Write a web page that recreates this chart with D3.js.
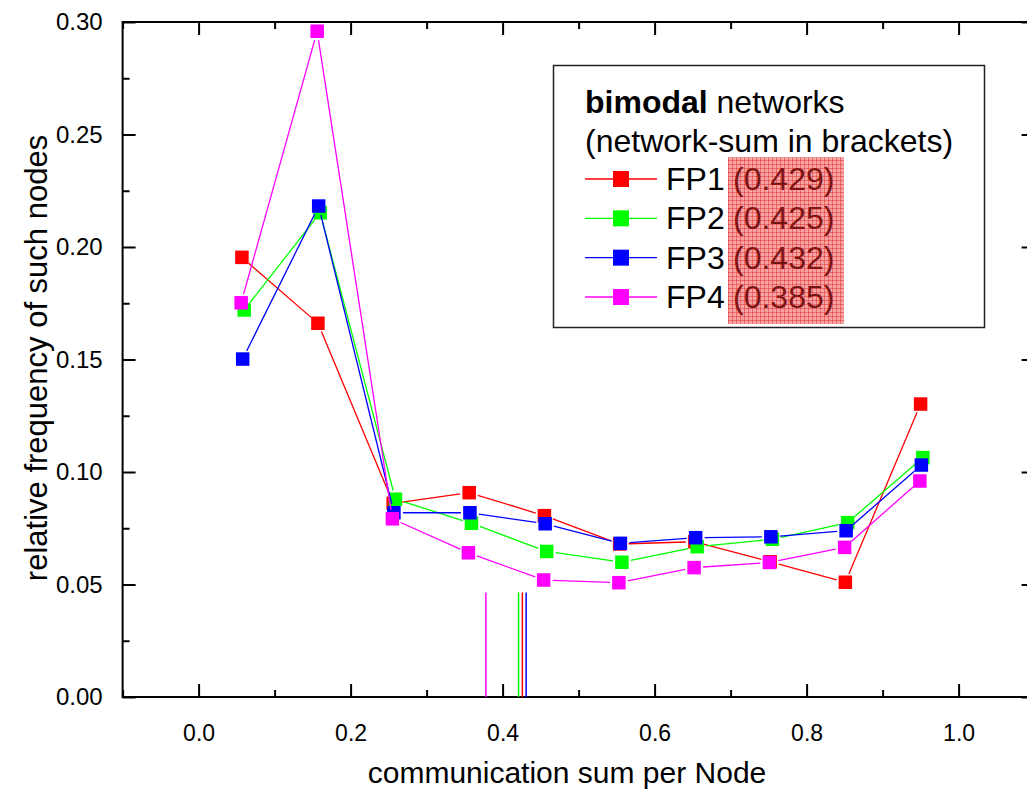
<!DOCTYPE html>
<html>
<head>
<meta charset="utf-8">
<script src="https://cdn.jsdelivr.net/npm/d3@7"></script>
<style>
  html, body { margin: 0; padding: 0; background: #fff; }
  svg { display: block; font-family: "Liberation Sans", Arial, Helvetica, sans-serif; }
</style>
</head>
<body>
<svg id="chart" width="1027" height="791"></svg>
<script>
// ---- data ----
const binCenters = [0.057, 0.157, 0.256, 0.356, 0.455, 0.554, 0.653, 0.752, 0.851, 0.950];
const seriesNames = ["FP1", "FP2", "FP3", "FP4"];
const seriesColors = ["#ff0000", "#00ff00", "#0000ff", "#ff00ff"];
const seriesXShift = [0.0, 0.003, 0.001, -0.001];
const fp1 = [0.1954, 0.1661, 0.0861, 0.0908, 0.0806, 0.0680, 0.0690, 0.0601, 0.0510, 0.1302];
const fp2 = [0.1720, 0.2152, 0.0879, 0.0772, 0.0647, 0.0599, 0.0668, 0.0701, 0.0775, 0.1064];
const fp3 = [0.1502, 0.2182, 0.0819, 0.0819, 0.0770, 0.0683, 0.0708, 0.0712, 0.0739, 0.1031];
const fp4 = [0.1752, 0.2959, 0.0792, 0.0641, 0.0520, 0.0508, 0.0575, 0.0598, 0.0665, 0.0960];
const networkSumLabels = ["(0.429)", "(0.425)", "(0.432)", "(0.385)"];
const networkSumLinePos = [0.426, 0.421, 0.431, 0.378];
const networkSumLineTop = 0.0465;
const xTicks = [0.0, 0.2, 0.4, 0.6, 0.8, 1.0];
const xMinorTicks = [-0.1, 0.1, 0.3, 0.5, 0.7, 0.9, 1.1];
const yTicks = [0.00, 0.05, 0.10, 0.15, 0.20, 0.25, 0.30];
const yMinorTicks = [0.025, 0.075, 0.125, 0.175, 0.225, 0.275];
const xDomain = [-0.1, 1.1];
const yDomain = [0, 0.3];
const xTitle = "communication sum per Node";
const yTitle = "relative frequency of such nodes";
const legendTitleBold = "bimodal";
const legendTitleRest = " networks";
const legendSubtitle = "(network-sum in brackets)";

const seriesValues = [fp1, fp2, fp3, fp4];

// ---- layout ----
const FONT = "'Liberation Sans', Arial, Helvetica, sans-serif";
const svg = d3.select("#chart");
const pLeft = 122.6, pRight = 1034.6, pTop = 22, pBottom = 697;
const x = d3.scaleLinear().domain(xDomain).range([pLeft, pRight]);
const y = d3.scaleLinear().domain(yDomain).range([pBottom, pTop]);

const majorLen = 13, minorLen = 7;
const fmtX = d3.format(".1f"), fmtY = d3.format(".2f");

function styleAxis(g) {
  g.select(".domain").remove();
  g.selectAll(".tick line").attr("stroke", "#000").attr("stroke-width", 2);
}

// bottom
svg.append("g").attr("transform", `translate(0,${pBottom})`)
  .call(d3.axisBottom(x).tickValues(xTicks).tickSize(-majorLen).tickPadding(44).tickFormat(fmtX))
  .call(styleAxis)
  .call(g => g.selectAll("text").attr("font-size", 23).attr("fill", "#000")
      .attr("font-family", FONT).attr("dy", "0"));
svg.append("g").attr("transform", `translate(0,${pBottom})`)
  .call(d3.axisBottom(x).tickValues(xMinorTicks).tickSize(-minorLen).tickFormat(""))
  .call(styleAxis);
// top
svg.append("g").attr("transform", `translate(0,${pTop})`)
  .call(d3.axisTop(x).tickValues(xTicks).tickSize(-majorLen).tickFormat(""))
  .call(styleAxis);
svg.append("g").attr("transform", `translate(0,${pTop})`)
  .call(d3.axisTop(x).tickValues(xMinorTicks).tickSize(-minorLen).tickFormat(""))
  .call(styleAxis);
// left
svg.append("g").attr("transform", `translate(${pLeft},0)`)
  .call(d3.axisLeft(y).tickValues(yTicks).tickSize(-majorLen).tickPadding(20).tickFormat(fmtY))
  .call(styleAxis)
  .call(g => g.selectAll("text").attr("font-size", 24).attr("fill", "#000")
      .attr("font-family", FONT));
svg.append("g").attr("transform", `translate(${pLeft},0)`)
  .call(d3.axisLeft(y).tickValues(yMinorTicks).tickSize(-minorLen).tickFormat(""))
  .call(styleAxis);
// right
svg.append("g").attr("transform", `translate(${pRight},0)`)
  .call(d3.axisRight(y).tickValues(yTicks).tickSize(-majorLen).tickFormat(""))
  .call(styleAxis);
svg.append("g").attr("transform", `translate(${pRight},0)`)
  .call(d3.axisRight(y).tickValues(yMinorTicks).tickSize(-minorLen).tickFormat(""))
  .call(styleAxis);

// frame
svg.append("rect").attr("x", pLeft).attr("y", pTop)
  .attr("width", pRight - pLeft).attr("height", pBottom - pTop)
  .attr("fill", "none").attr("stroke", "#000").attr("stroke-width", 2);

// axis titles
svg.append("text").attr("x", 567).attr("y", 783)
  .attr("text-anchor", "middle").attr("font-size", 30).attr("fill", "#000")
  .attr("font-family", FONT)
  .text(xTitle);
svg.append("text").attr("transform", `translate(47,358) rotate(-90)`)
  .attr("text-anchor", "middle").attr("font-size", 31).attr("fill", "#000")
  .attr("font-family", FONT)
  .text(yTitle);

// network-sum drop lines
networkSumLinePos.forEach((v, i) => {
  svg.append("line")
    .attr("x1", x(v)).attr("x2", x(v))
    .attr("y1", y(0)).attr("y2", y(networkSumLineTop))
    .attr("stroke", seriesColors[i]).attr("stroke-width", 1.5);
});

// series
const ms = 13.5, gap = 9;
seriesValues.forEach((vals, si) => {
  const pts = vals.map((v, k) => [x(binCenters[k] + seriesXShift[si]), y(v)]);
  const g = svg.append("g");
  for (let k = 0; k < pts.length - 1; k++) {
    const [x1, y1] = pts[k], [x2, y2] = pts[k + 1];
    const dx = x2 - x1, dy = y2 - y1, L = Math.hypot(dx, dy);
    if (L <= 2 * gap) continue;
    const ux = dx / L, uy = dy / L;
    g.append("line")
      .attr("x1", x1 + ux * gap).attr("y1", y1 + uy * gap)
      .attr("x2", x2 - ux * gap).attr("y2", y2 - uy * gap)
      .attr("stroke", seriesColors[si]).attr("stroke-width", 1.3);
  }
  g.selectAll("rect").data(pts).join("rect")
    .attr("x", d => d[0] - ms / 2).attr("y", d => d[1] - ms / 2)
    .attr("width", ms).attr("height", ms)
    .attr("fill", seriesColors[si]);
});

// legend
const LFS = 32;
const lg = svg.append("g").attr("font-family", FONT);
lg.append("rect").attr("x", 553.5).attr("y", 65.5).attr("width", 431).attr("height", 262)
  .attr("fill", "#fff").attr("stroke", "#222").attr("stroke-width", 1.5);
const t1 = lg.append("text").attr("x", 585).attr("y", 113).attr("font-size", LFS).attr("fill", "#000");
t1.append("tspan").attr("font-weight", "bold").text(legendTitleBold);
t1.append("tspan").text(legendTitleRest);
lg.append("text").attr("x", 585).attr("y", 152).attr("font-size", LFS).attr("fill", "#000")
  .text(legendSubtitle);

const rowY = d3.scaleLinear().domain([0, 3]).range([179, 297]);
seriesNames.forEach((name, i) => {
  const cy = rowY(i);
  lg.append("line").attr("x1", 585).attr("x2", 657).attr("y1", cy).attr("y2", cy)
    .attr("stroke", seriesColors[i]).attr("stroke-width", 1.3);
  lg.append("rect").attr("x", 621 - 8).attr("y", cy - 8).attr("width", 16).attr("height", 16)
    .attr("fill", seriesColors[i]);
  lg.append("text").attr("x", 666).attr("y", cy + 11).attr("font-size", LFS).attr("fill", "#000")
    .text(name);
  lg.append("text").attr("x", 733).attr("y", cy + 11).attr("font-size", LFS).attr("fill", "#000")
    .text(networkSumLabels[i]);
});

// hatched highlight over the bracket values
const defs = svg.append("defs");
const pat = defs.append("pattern").attr("id", "hatch").attr("patternUnits", "userSpaceOnUse")
  .attr("width", 4).attr("height", 4);
pat.append("rect").attr("width", 4).attr("height", 4).attr("fill", "rgba(240,50,50,0.45)");
pat.append("path").attr("d", "M0,0.5H4M0.5,0V4").attr("stroke", "rgba(215,0,0,0.35)").attr("stroke-width", 1);
lg.append("rect").attr("x", 728).attr("y", 157).attr("width", 116).attr("height", 167)
  .attr("fill", "url(#hatch)");
</script>
</body>
</html>
